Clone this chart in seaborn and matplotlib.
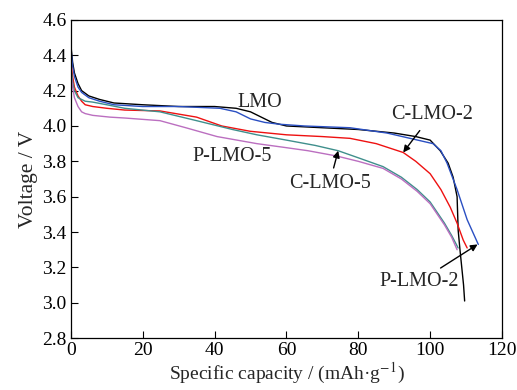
import seaborn as sns
import matplotlib.pyplot as plt
import numpy as np
import pandas as pd

# discharge curves (capacity in mAh/g, voltage in V)
lmo_x = [0, 0.5, 1, 2, 3, 5, 8, 12, 20, 30, 40, 46, 50, 53, 56, 60, 70, 80, 90, 96, 100, 102.8, 105, 106.4, 107.5, 107.8, 108.3, 108.8, 109.3, 109.6]
lmo_y = [4.46, 4.36, 4.30, 4.24, 4.20, 4.17, 4.15, 4.13, 4.12, 4.11, 4.11, 4.10, 4.08, 4.05, 4.02, 4.00, 3.99, 3.98, 3.96, 3.94, 3.92, 3.86, 3.79, 3.71, 3.60, 3.41, 3.30, 3.20, 3.10, 3.01]

plmo2_x = [0, 0.5, 1, 2, 3, 5, 8, 12, 20, 30, 41.5, 46, 50, 54, 58, 65, 77.7, 88, 94.4, 100.8, 103, 104.7, 107.5, 110.3, 113.4]
plmo2_y = [4.44, 4.34, 4.28, 4.22, 4.19, 4.16, 4.14, 4.12, 4.11, 4.11, 4.10, 4.08, 4.04, 4.02, 4.01, 4.00, 3.99, 3.96, 3.93, 3.90, 3.86, 3.79, 3.64, 3.47, 3.33]

clmo2_x = [0, 0.5, 1, 2, 3, 4, 6.1, 10, 15, 24.8, 35, 42, 49.9, 60, 70, 77.7, 85, 92.5, 96, 100, 103, 105.6, 107.5, 109.2, 110.3]
clmo2_y = [4.36, 4.28, 4.22, 4.17, 4.14, 4.12, 4.11, 4.10, 4.09, 4.085, 4.05, 4.00, 3.97, 3.95, 3.94, 3.93, 3.90, 3.85, 3.80, 3.73, 3.64, 3.54, 3.45, 3.355, 3.31]

clmo5_x = [0, 0.5, 1, 2, 3, 4, 6.1, 10, 15, 24.8, 35, 45, 51.8, 60, 68, 74.4, 80, 86.9, 92, 96.4, 100, 102, 104, 106, 107.8]
clmo5_y = [4.33, 4.25, 4.20, 4.16, 4.15, 4.14, 4.135, 4.12, 4.10, 4.08, 4.03, 3.98, 3.95, 3.92, 3.89, 3.86, 3.82, 3.77, 3.71, 3.64, 3.57, 3.51, 3.45, 3.38, 3.31]

plmo5_x = [0, 0.5, 1, 2, 3, 4, 6.1, 10.9, 15, 24.8, 32, 40.7, 51.8, 59, 66, 74, 80, 86.9, 92, 96.4, 100, 102, 104, 106, 107.5]
plmo5_y = [4.30, 4.22, 4.16, 4.11, 4.08, 4.07, 4.06, 4.05, 4.045, 4.03, 3.99, 3.94, 3.90, 3.88, 3.86, 3.83, 3.80, 3.76, 3.70, 3.63, 3.56, 3.50, 3.44, 3.37, 3.30]

series = [
    ("LMO", lmo_x, lmo_y, "black"),
    ("P-LMO-2", plmo2_x, plmo2_y, "#2a4fc2"),
    ("C-LMO-2", clmo2_x, clmo2_y, "#ee1111"),
    ("C-LMO-5", clmo5_x, clmo5_y, "#3f8f8c"),
    ("P-LMO-5", plmo5_x, plmo5_y, "#bb6fc0"),
]

sns.set_style("ticks")
plt.rcParams['font.family'] = ['Liberation Serif', 'DejaVu Serif']
plt.rcParams['mathtext.fontset'] = 'stix'

fig = plt.figure(figsize=(5.17, 3.9), dpi=100)
ax = fig.add_axes([0.137, 0.133, 0.834, 0.816])

for name, xs, ys, col in series:
    df = pd.DataFrame({"cap": xs, "v": ys})
    sns.lineplot(data=df, x="cap", y="v", color=col, lw=1.0, ax=ax,
                 sort=False, estimator=None)

ax.set_xlim(0, 120)
ax.set_ylim(2.8, 4.6)
ax.set_xticks(np.arange(0, 121, 20))
ax.set_yticks(np.arange(2.8, 4.61, 0.2))
ax.set_yticklabels([f"{v:.1f}" for v in np.arange(2.8, 4.61, 0.2)])
ax.tick_params(direction="in", length=5, width=0.8, labelsize=14, colors="black", pad=3)
for s in ax.spines.values():
    s.set_linewidth(0.9)
    s.set_color("black")
    s.set_visible(True)

ax.set_xlabel("Specific capacity / (mAh·g$^{-1}$)", fontsize=14, labelpad=1)
ax.set_ylabel("Voltage / V", fontsize=15.5, labelpad=3)

fs = 14.5
ax.text(52.6, 4.13, "LMO", fontsize=fs, ha="center", va="center")
ax.text(44.8, 3.825, "P-LMO-5", fontsize=fs, ha="center", va="center")
ax.annotate("C-LMO-2", xy=(92.5, 3.85), xytext=(100.5, 4.065), fontsize=fs,
            ha="center", va="center",
            arrowprops=dict(arrowstyle="-|>", color="black", lw=1, shrinkA=3, shrinkB=0, mutation_scale=10))
ax.annotate("C-LMO-5", xy=(74.4, 3.86), xytext=(72, 3.675), fontsize=fs,
            ha="center", va="center",
            arrowprops=dict(arrowstyle="-|>", color="black", lw=1, shrinkA=2, shrinkB=0, mutation_scale=10))
ax.annotate("P-LMO-2", xy=(113.2, 3.33), xytext=(97, 3.12), fontsize=fs,
            ha="center", va="center",
            arrowprops=dict(arrowstyle="-|>", color="black", lw=1, shrinkA=1, shrinkB=0, mutation_scale=10))

fig.savefig("out.png", dpi=100)
